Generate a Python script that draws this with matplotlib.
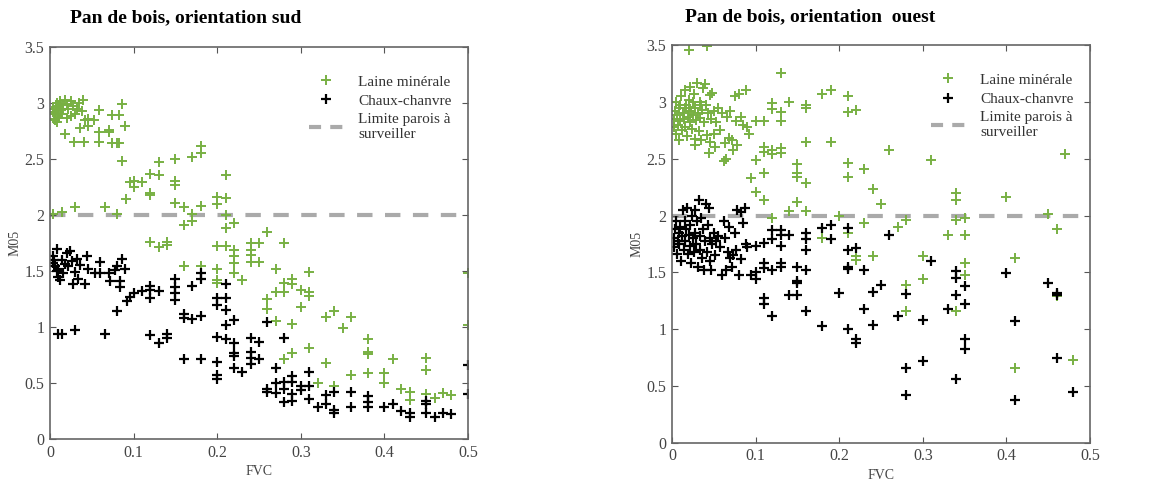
import matplotlib
matplotlib.use('agg')
import matplotlib.pyplot as plt
from matplotlib.lines import Line2D

# ---- Pan de bois, orientation sud ----
sud_laine_x = [0.004, 0.006, 0.008, 0.01, 0.01, 0.012, 0.015, 0.006, 0.009, 0.013, 0.016, 0.018,
               0.02, 0.022, 0.025, 0.025, 0.028, 0.03, 0.032, 0.035, 0.038, 0.04, 0.042, 0.02,
               0.018, 0.029, 0.041, 0.036, 0.045, 0.053, 0.045, 0.059, 0.059, 0.059, 0.07, 0.07,
               0.074, 0.074, 0.08, 0.082, 0.086, 0.09, 0.086, 0.082,
               0.003, 0.005, 0.007, 0.009, 0.011, 0.013, 0.008, 0.012,
               0.096, 0.1, 0.1, 0.11, 0.091, 0.12, 0.12, 0.12, 0.13, 0.13, 0.15, 0.15, 0.15, 0.15,
               0.16, 0.16, 0.17, 0.17, 0.17, 0.18, 0.18, 0.18, 0.2, 0.2, 0.21, 0.21, 0.21, 0.21,
               0.22, 0.004, 0.014, 0.03, 0.066, 0.08, 0.12, 0.13, 0.14, 0.14, 0.16, 0.18, 0.2,
               0.2, 0.2, 0.2, 0.21, 0.22, 0.22, 0.22, 0.22, 0.23, 0.24, 0.24, 0.24, 0.24, 0.25,
               0.25, 0.26, 0.26, 0.26, 0.27, 0.27, 0.27, 0.28, 0.28, 0.28, 0.28, 0.29, 0.29, 0.29,
               0.29, 0.3, 0.3, 0.31, 0.31, 0.31, 0.31, 0.32, 0.33, 0.33, 0.34, 0.34, 0.35, 0.36,
               0.36, 0.38, 0.38, 0.38, 0.38, 0.4, 0.4, 0.41, 0.42, 0.43, 0.43, 0.45, 0.45, 0.45,
               0.46, 0.47, 0.48, 0.5, 0.5]
sud_laine_y = [2.95, 2.9, 3.0, 2.88, 2.93, 3.02, 2.98, 2.85, 2.97, 2.9, 2.95, 3.03,
               2.99, 2.95, 2.88, 3.02, 2.97, 2.9, 2.95, 3.0, 2.93, 3.03, 2.85, 2.87,
               2.72, 2.65, 2.65, 2.78, 2.79, 2.85, 2.86, 2.94, 2.74, 2.65, 2.76, 2.74,
               2.89, 2.64, 2.64, 2.89, 2.99, 2.79, 2.48, 2.64,
               2.92, 2.86, 2.96, 2.91, 2.87, 2.94, 2.83, 2.99,
               2.29, 2.3, 2.25, 2.29, 2.14, 2.37, 2.2, 2.18, 2.47, 2.36, 2.5, 2.3, 2.27, 2.11,
               2.07, 1.91, 2.52, 2.01, 1.95, 2.62, 2.55, 2.08, 2.16, 2.1, 2.36, 2.15, 2.0, 1.88,
               1.93, 2.01, 2.03, 2.07, 2.07, 2.01, 1.76, 1.71, 1.76, 1.73, 1.54, 1.54, 1.72,
               1.52, 1.42, 1.39, 1.72, 1.69, 1.63, 1.57, 1.48, 1.42, 1.75, 1.69, 1.64, 1.58, 1.75,
               1.58, 1.85, 1.25, 1.16, 1.52, 1.31, 1.05, 1.75, 1.39, 1.31, 0.71, 1.43, 1.38, 1.03,
               0.77, 1.33, 1.18, 1.49, 1.31, 1.28, 0.81, 0.5, 1.09, 0.68, 1.14, 0.47, 0.99, 1.09,
               0.57, 0.89, 0.78, 0.76, 0.59, 0.59, 0.5, 0.71, 0.45, 0.42, 0.35, 0.72, 0.62, 0.4,
               0.37, 0.41, 0.39, 1.48, 1.02]

sud_chaux_x = [0.004, 0.008, 0.006, 0.01, 0.014, 0.016, 0.02, 0.022, 0.024, 0.026, 0.028, 0.03,
               0.032, 0.034, 0.036, 0.042, 0.044, 0.046, 0.054, 0.06, 0.06, 0.07, 0.072, 0.078,
               0.08, 0.084, 0.086, 0.09, 0.084, 0.003, 0.008, 0.012, 0.018, 0.005, 0.01,
               0.08, 0.092, 0.096, 0.1, 0.11, 0.12, 0.12, 0.12, 0.13, 0.15, 0.15, 0.15, 0.15,
               0.16, 0.16, 0.17, 0.17, 0.18, 0.18, 0.18, 0.2, 0.2, 0.21, 0.21, 0.21, 0.21, 0.22,
               0.01, 0.014, 0.03, 0.066, 0.12, 0.13, 0.14, 0.14, 0.16, 0.18, 0.2, 0.2, 0.2, 0.2,
               0.21, 0.22, 0.22, 0.22, 0.22, 0.23, 0.24, 0.24, 0.24, 0.24, 0.25, 0.25, 0.26, 0.26,
               0.26, 0.27, 0.27, 0.27, 0.28, 0.28, 0.28, 0.28, 0.29, 0.29, 0.29, 0.29, 0.3, 0.3,
               0.31, 0.31, 0.31, 0.32, 0.33, 0.33, 0.34, 0.34, 0.34, 0.36, 0.36, 0.38, 0.38, 0.38,
               0.4, 0.41, 0.42, 0.43, 0.43, 0.45, 0.45, 0.45, 0.46, 0.47, 0.48, 0.5, 0.5]
sud_chaux_y = [1.63, 1.7, 1.54, 1.45, 1.6, 1.48, 1.66, 1.54, 1.68, 1.59, 1.38, 1.49,
               1.61, 1.43, 1.55, 1.38, 1.63, 1.52, 1.48, 1.58, 1.48, 1.48, 1.41, 1.51,
               1.54, 1.36, 1.61, 1.52, 1.41, 1.57, 1.5, 1.42, 1.56, 1.6, 1.52,
               1.14, 1.23, 1.27, 1.3, 1.32, 1.37, 1.33, 1.26, 1.32, 1.43, 1.36, 1.3, 1.24,
               1.12, 1.08, 1.07, 1.37, 1.48, 1.43, 1.1, 1.26, 1.2, 1.38, 1.26, 1.15, 1.02, 1.06,
               0.94, 0.94, 0.97, 0.94, 0.93, 0.86, 0.94, 0.9, 0.71, 0.71, 0.91, 0.69, 0.57, 0.54,
               0.89, 0.86, 0.77, 0.74, 0.63, 0.6, 0.9, 0.78, 0.72, 0.67, 0.87, 0.71, 1.04, 0.45,
               0.42, 0.63, 0.5, 0.41, 0.9, 0.51, 0.45, 0.33, 0.56, 0.51, 0.4, 0.34, 0.47, 0.44,
               0.6, 0.47, 0.36, 0.29, 0.39, 0.31, 0.42, 0.26, 0.23, 0.42, 0.29, 0.38, 0.33, 0.29,
               0.29, 0.31, 0.25, 0.23, 0.2, 0.34, 0.31, 0.23, 0.2, 0.23, 0.22, 0.66, 0.4]

# ---- Pan de bois, orientation ouest ----
ouest_laine_x = [0.002, 0.003, 0.004, 0.005, 0.006, 0.007, 0.008, 0.009, 0.01, 0.011, 0.012, 0.013,
                 0.014, 0.015, 0.016, 0.017, 0.018, 0.019, 0.02, 0.021, 0.022, 0.023, 0.024, 0.025,
                 0.026, 0.027, 0.028, 0.029, 0.03, 0.031, 0.032, 0.033, 0.034, 0.035, 0.036, 0.037,
                 0.038, 0.04, 0.041, 0.042, 0.043, 0.045, 0.046, 0.047, 0.048, 0.05, 0.052, 0.053,
                 0.055, 0.057, 0.06, 0.062, 0.063, 0.065, 0.066, 0.068, 0.07, 0.072, 0.073, 0.075,
                 0.076, 0.078, 0.08, 0.082, 0.085, 0.088, 0.09, 0.092, 0.044, 0.028, 0.05, 0.035,
                 0.025, 0.015, 0.005, 0.01, 0.02,
                 0.02, 0.042, 0.13, 0.18, 0.19, 0.21, 0.21, 0.22, 0.12, 0.12, 0.13, 0.13, 0.14,
                 0.16, 0.16, 0.16, 0.19, 0.26, 0.31, 0.35, 0.47, 0.11, 0.1, 0.1, 0.094, 0.11, 0.11,
                 0.11, 0.11, 0.1, 0.12, 0.12, 0.13, 0.13, 0.15, 0.15, 0.15, 0.15, 0.16, 0.16, 0.14,
                 0.12, 0.21, 0.21, 0.23, 0.24, 0.25, 0.2, 0.23, 0.27, 0.28, 0.21, 0.22, 0.22, 0.24,
                 0.18, 0.28, 0.28, 0.3, 0.3, 0.33, 0.34, 0.34, 0.34, 0.34, 0.35, 0.35, 0.35, 0.35,
                 0.4, 0.41, 0.41, 0.45, 0.46, 0.46, 0.48]
ouest_laine_y = [2.85, 2.78, 2.92, 2.72, 2.88, 2.8, 2.95, 2.66, 2.83, 3.05, 2.75, 2.9,
                 2.85, 3.1, 2.78, 2.97, 2.7, 2.87, 3.02, 2.82, 3.13, 2.92, 2.76, 2.88,
                 3.07, 2.67, 2.95, 2.84, 3.17, 2.9, 2.74, 3.0, 2.86, 2.66, 2.93, 3.12,
                 2.82, 3.16, 2.97, 2.71, 2.9, 3.06, 2.65, 2.85, 3.08, 2.92, 2.6, 2.82,
                 2.95, 2.75, 2.9, 2.48, 2.64, 2.5, 2.87, 2.68, 2.92, 2.66, 2.58, 3.05,
                 2.83, 2.62, 3.07, 2.87, 2.8, 3.1, 2.78, 2.72, 2.55, 2.62, 2.72, 2.97,
                 3.0, 2.95, 3.0, 2.97, 2.92,
                 3.46, 3.49, 3.25, 3.07, 3.1, 3.05, 2.91, 2.93, 2.99, 2.94, 2.91, 2.83, 3.0,
                 2.97, 2.95, 2.65, 2.65, 2.58, 2.49, 2.69, 2.54, 2.83, 2.83, 2.49, 2.33, 2.6, 2.56,
                 2.37, 2.14, 2.21, 2.58, 2.54, 2.59, 2.55, 2.45, 2.37, 2.34, 2.12, 2.29, 2.04, 2.04,
                 1.98, 2.46, 2.34, 2.41, 2.23, 2.1, 2.0, 1.93, 1.9, 1.96, 1.85, 1.64, 1.61, 1.64,
                 1.8, 1.39, 1.16, 1.64, 1.44, 1.83, 2.2, 2.14, 1.96, 1.16, 1.98, 1.83, 1.58, 1.48,
                 2.16, 1.63, 0.66, 2.01, 1.88, 1.29, 0.73]

ouest_chaux_x = [0.002, 0.003, 0.004, 0.005, 0.006, 0.007, 0.008, 0.009, 0.01, 0.011, 0.012, 0.013,
                 0.014, 0.015, 0.016, 0.017, 0.018, 0.019, 0.02, 0.021, 0.022, 0.023, 0.024, 0.025,
                 0.026, 0.027, 0.028, 0.029, 0.03, 0.031, 0.032, 0.033, 0.034, 0.035, 0.036, 0.037,
                 0.038, 0.04, 0.041, 0.042, 0.043, 0.044, 0.045, 0.046, 0.047, 0.048, 0.05, 0.052,
                 0.053, 0.055, 0.057, 0.06, 0.062, 0.063, 0.065, 0.067, 0.068, 0.07, 0.072, 0.073,
                 0.075, 0.077, 0.078, 0.08, 0.082, 0.083, 0.085, 0.087, 0.088, 0.09, 0.095, 0.1,
                 0.1, 0.1,
                 0.11, 0.11, 0.11, 0.12, 0.12, 0.12, 0.13, 0.13, 0.13, 0.13, 0.13, 0.14, 0.14,
                 0.15, 0.15, 0.15, 0.15, 0.16, 0.16, 0.16, 0.16, 0.16, 0.11, 0.11, 0.12,
                 0.18, 0.19, 0.19, 0.18, 0.2, 0.21, 0.21, 0.21, 0.21, 0.21, 0.22, 0.22, 0.22, 0.23,
                 0.23, 0.24, 0.24, 0.25, 0.26, 0.27, 0.28, 0.28, 0.28, 0.3, 0.3, 0.31, 0.33, 0.34,
                 0.34, 0.34, 0.34, 0.35, 0.35, 0.35, 0.35, 0.4, 0.41, 0.41, 0.45, 0.46, 0.46, 0.46,
                 0.48]
ouest_chaux_y = [1.8, 1.72, 1.88, 1.95, 1.66, 1.78, 1.85, 1.75, 1.9, 1.6, 1.82, 2.05,
                 1.7, 1.95, 1.78, 1.88, 2.07, 1.66, 1.83, 1.73, 1.92, 1.58, 2.0, 1.8,
                 1.68, 1.85, 2.05, 1.75, 1.95, 1.55, 2.14, 1.82, 1.7, 1.98, 1.63, 1.88,
                 1.52, 1.78, 2.1, 1.68, 1.92, 2.07, 1.6, 1.8, 1.52, 1.75, 1.85, 1.65,
                 1.78, 1.82, 1.72, 1.48, 1.95, 1.8, 1.52, 1.68, 1.9, 1.63, 1.55, 1.65,
                 1.85, 1.7, 2.05, 1.48, 1.62, 2.03, 1.93, 2.07, 1.75, 1.72, 1.48, 1.44,
                 1.73, 1.5,
                 1.76, 1.58, 1.54, 1.87, 1.79, 1.52, 1.87, 1.83, 1.73, 1.58, 1.55, 1.83, 1.3,
                 1.55, 1.42, 1.41, 1.3, 1.85, 1.79, 1.7, 1.52, 1.16, 1.27, 1.22, 1.12,
                 1.89, 1.92, 1.79, 1.03, 1.32, 1.89, 1.7, 1.55, 1.53, 1.0, 1.71, 0.91, 0.88, 1.52,
                 1.18, 1.33, 1.04, 1.39, 1.83, 1.12, 1.31, 0.66, 0.42, 1.08, 0.72, 1.6, 1.18, 1.51,
                 1.45, 1.3, 0.56, 1.38, 1.22, 0.91, 0.83, 1.49, 1.07, 0.38, 1.41, 1.32, 1.3, 0.75,
                 0.45]

limite = 2.0
xticks = [0, 0.1, 0.2, 0.3, 0.4, 0.5]
xticklabels = ['0', '0.1', '0.2', '0.3', '0.4', '0.5']
yticks = [0, 0.5, 1, 1.5, 2, 2.5, 3, 3.5]
yticklabels = ['0', '0.5', '1', '1.5', '2', '2.5', '3', '3.5']

vert = '#78b043'
gris = '#aaaaaa'
serif = 'Liberation Serif'

fig = plt.figure(figsize=(11.66, 4.84), dpi=100)
ax1 = fig.add_axes([0.0429, 0.093, 0.3585, 0.810])
ax2 = fig.add_axes([0.5763, 0.085, 0.3585, 0.822])

panels = [(ax1, sud_laine_x, sud_laine_y, sud_chaux_x, sud_chaux_y),
          (ax2, ouest_laine_x, ouest_laine_y, ouest_chaux_x, ouest_chaux_y)]

for ax, lx, ly, cx, cy in panels:
    h1, = ax.plot(lx, ly, linestyle='none', marker='+', markersize=6.5, markeredgewidth=1.4,
                  color=vert)
    h2, = ax.plot(cx, cy, linestyle='none', marker='+', markersize=6.5, markeredgewidth=1.6,
                  color='black')
    ax.axhline(limite, color=gris, linewidth=3, dashes=(3.7, 3.0), zorder=1)
    # proxy so the legend shows two short dashes like the original
    h3 = Line2D([], [], color=gris, linewidth=3, dashes=(2.9, 2.2))
    ax.set_xlim(0, 0.5)
    ax.set_ylim(0, 3.5)
    ax.set_xticks(xticks)
    ax.set_xticklabels(xticklabels)
    ax.set_yticks(yticks)
    ax.set_yticklabels(yticklabels)
    ax.tick_params(direction='in', top=True, right=True, length=4, color='#555555',
                   labelcolor='#444444', labelsize=11.5, pad=4)
    for lab in ax.get_xticklabels() + ax.get_yticklabels():
        lab.set_family(serif)
    for s in ax.spines.values():
        s.set_color('#666666')
        s.set_linewidth(1.2)
    ax.set_xlabel('FVC', fontsize=10, color='#444444', family=serif, labelpad=3)
    ax.set_ylabel('M05', fontsize=10, color='#444444', family=serif, labelpad=2)
    leg = ax.legend([h1, h2, h3], ['Laine minérale', 'Chaux-chanvre', 'Limite parois à\nsurveiller'],
                    loc='upper right', bbox_to_anchor=(0.99, 0.96), frameon=True,
                    fancybox=False, edgecolor='white', facecolor='white', framealpha=1,
                    prop={'family': serif, 'size': 11}, handlelength=2.2,
                    labelspacing=0.35, borderpad=0.3, handletextpad=1.0)
    for t in leg.get_texts():
        t.set_color('#333333')

fig.text(70 / 1166, 1 - 18 / 484, 'Pan de bois, orientation sud', fontsize=14,
         fontweight='bold', family=serif, va='center', ha='left')
fig.text(685 / 1166, 1 - 17 / 484, 'Pan de bois, orientation  ouest', fontsize=14,
         fontweight='bold', family=serif, va='center', ha='left')

fig.savefig('out.png', dpi=100)
